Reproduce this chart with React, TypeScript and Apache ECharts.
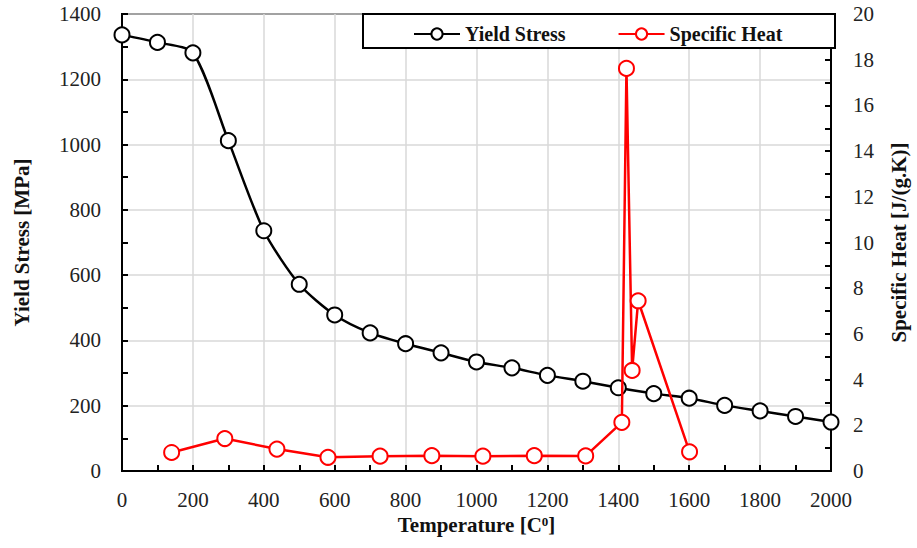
import React, { useEffect, useRef } from "react";
import * as echarts from "echarts";

// Yield stress vs temperature
const yieldTemps = [0, 100, 200, 300, 400, 500, 600, 700, 800, 900, 1000, 1100, 1200, 1300, 1400, 1500, 1600, 1700, 1800, 1900, 2000];
const yieldStress = [1336, 1313, 1281, 1012, 736, 572, 478, 423, 390, 362, 334, 316, 293, 275, 255, 237, 223, 201, 184, 167, 150];

// Specific heat vs temperature
const heatTemps = [140, 290, 437, 581, 728, 874, 1018, 1163, 1308, 1410, 1423, 1439, 1456, 1601];
const specificHeat = [0.81, 1.42, 0.96, 0.6, 0.65, 0.67, 0.65, 0.67, 0.66, 2.13, 17.62, 4.4, 7.45, 0.84];

const FONT = "'Liberation Serif', 'Times New Roman', serif";

export default function App() {
  const ref = useRef<HTMLDivElement>(null);

  useEffect(() => {
    if (!ref.current) return;
    const chart = echarts.init(ref.current, undefined, { renderer: "svg" });
    const axisLine = { show: true, lineStyle: { color: "#000", width: 2 } };
    const axisTick = { show: true, inside: true, length: 6, lineStyle: { color: "#000", width: 2 } };
    const minorTick = { show: true, splitNumber: 2, length: 6, lineStyle: { color: "#000", width: 2 } };
    const plain = (v: number) => String(v);
    const axisLabel = { fontFamily: FONT, fontSize: 21, color: "#222", formatter: plain };
    const nameStyle = { fontFamily: FONT, fontSize: 21, fontWeight: "bold" as const, color: "#111" };

    chart.setOption({
      animation: false,
      backgroundColor: "#fff",
      grid: { left: 122, right: 82, top: 14, bottom: 77, show: true, borderColor: "#000", borderWidth: 2 },
      legend: {
        left: 413,
        top: 24,
        padding: 0,
        itemWidth: 46,
        itemHeight: 14,
        itemGap: 52,
        z: 20,
        textStyle: { fontFamily: FONT, fontSize: 20, fontWeight: "bold", color: "#111" },
        data: ["Yield Stress", "Specific Heat"],
      },
      graphic: [
        {
          type: "rect",
          z: 10,
          shape: { x: 363, y: 14, width: 472, height: 34 },
          style: { fill: "#fff", stroke: "#000", lineWidth: 2 },
        },
      ],
      xAxis: {
        type: "value",
        min: 0,
        max: 2000,
        interval: 200,
        name: "{a|Temperature [C}{s|0}{a|]}",
        nameLocation: "middle",
        nameGap: 37,
        nameTextStyle: {
          rich: {
            a: { ...nameStyle },
            s: { ...nameStyle, fontSize: 13, verticalAlign: "top", padding: [0, 0, 8, 0] },
          },
        },
        axisLine,
        axisTick,
        minorTick,
        axisLabel: { ...axisLabel, margin: 18 },
        splitLine: { show: true, lineStyle: { color: "#d9d9d9", width: 1.5 } },
      },
      yAxis: [
        {
          type: "value",
          min: 0,
          max: 1400,
          interval: 200,
          name: "Yield Stress [MPa]",
          nameLocation: "middle",
          nameGap: 90,
          nameTextStyle: nameStyle,
          axisLine,
          axisTick,
          minorTick,
          axisLabel: { ...axisLabel, margin: 21 },
          splitLine: { show: true, lineStyle: { color: "#d9d9d9", width: 1.5 } },
        },
        {
          type: "value",
          min: 0,
          max: 20,
          interval: 2,
          name: "Specific Heat [J/(g.K)]",
          nameLocation: "middle",
          nameGap: 57,
          nameTextStyle: nameStyle,
          position: "right",
          axisLine,
          axisTick,
          minorTick,
          axisLabel: { ...axisLabel, margin: 22 },
          splitLine: { show: false },
        },
      ],
      series: [
        {
          name: "Yield Stress",
          type: "line",
          yAxisIndex: 0,
          smooth: 0.25,
          symbol: "emptyCircle",
          symbolSize: 15,
          z: 3,
          lineStyle: { color: "#000", width: 2.5 },
          itemStyle: { color: "#000", borderColor: "#000", borderWidth: 2 },
          data: yieldTemps.map((t, i) => [t, yieldStress[i]]),
        },
        {
          name: "Specific Heat",
          type: "line",
          yAxisIndex: 1,
          smooth: false,
          symbol: "emptyCircle",
          symbolSize: 15,
          z: 4,
          lineStyle: { color: "#ff0000", width: 2.5 },
          itemStyle: { color: "#ff0000", borderColor: "#ff0000", borderWidth: 2 },
          data: heatTemps.map((t, i) => [t, specificHeat[i]]),
        },
      ],
    });
    return () => chart.dispose();
  }, []);

  return <div ref={ref} style={{ position: "fixed", left: 0, top: 0, width: 917, height: 548 }} />;
}
